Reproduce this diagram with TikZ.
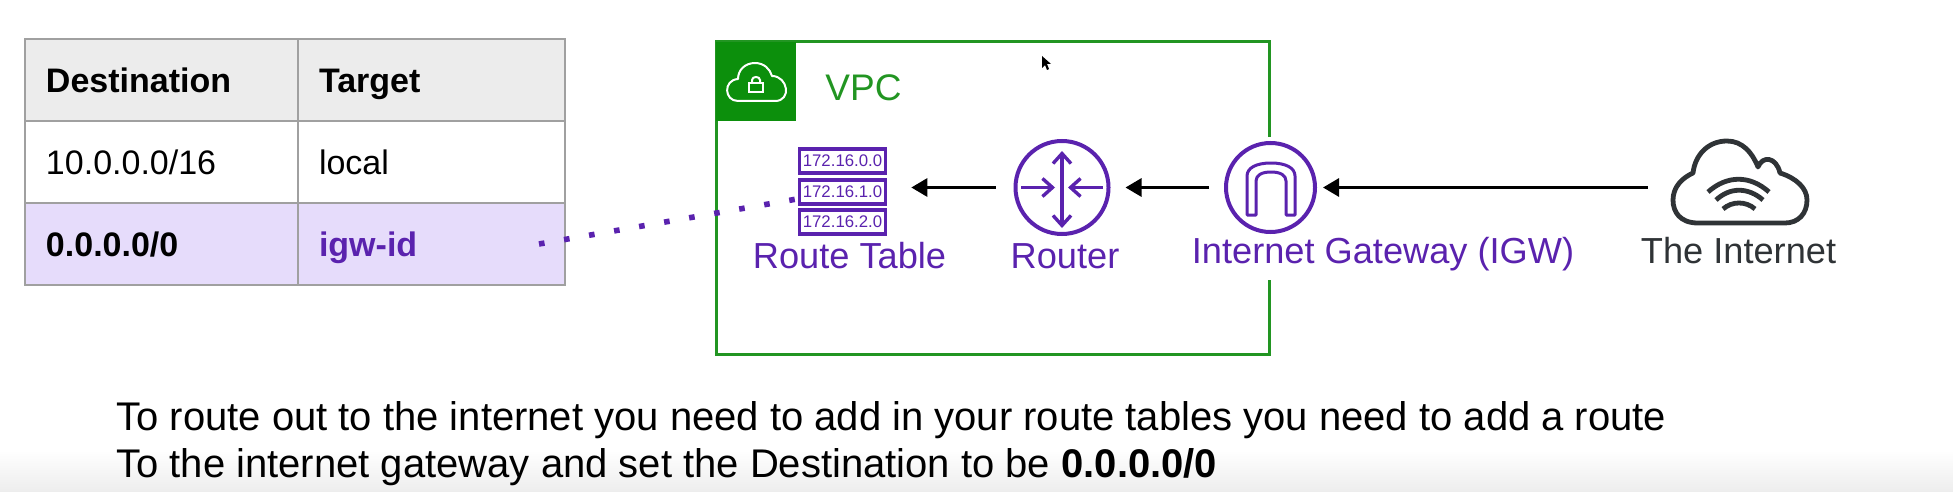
\documentclass[tikz,border=0pt]{standalone}
\usepackage{fontspec}
\setmainfont{Liberation Sans}
\usetikzlibrary{arrows.meta}
\definecolor{awspurple}{HTML}{5A22AE}
\definecolor{awsgreen}{HTML}{229522}
\definecolor{awshead}{HTML}{0C8F0C}
\definecolor{cellline}{HTML}{A0A0A0}
\definecolor{headfill}{HTML}{ECECEC}
\definecolor{rowfill}{HTML}{E6DCFB}
\definecolor{cloudgrey}{HTML}{2F3336}
\definecolor{bottomgrey}{HTML}{EDEDED}
\tikzset{
        cell/.style={draw=cellline, line width=1pt, minimum height=41pt, inner ysep=0pt, inner xsep=10.5pt, text height=12.5pt, text depth=0pt, align=left, font=\fontsize{17}{20}\selectfont},
        cola/.style={cell, text width=115.5pt},
        colb/.style={cell, text width=112.5pt},
        rowbox/.style={draw=awspurple, line width=1.8pt, minimum width=43pt, minimum height=12pt, inner sep=0pt, text=awspurple, font=\fontsize{8.4}{9}\selectfont},
        icon/.style={circle, draw=awspurple, line width=2pt, inner sep=0pt, outer sep=0pt},
        label/.style={anchor=base, font=\fontsize{18.1}{22}\selectfont},
        flow/.style={-{Triangle[length=8pt,width=9pt]}, line width=1.5pt, black},
        inner/.style={-{Straight Barb[length=5pt,width=9pt]}, line width=1.7pt, awspurple},
        note/.style={anchor=base west, inner sep=0pt, font=\fontsize{20}{24}\selectfont},
}
\begin{document}
\begin{tikzpicture}[x=0.5pt, y=-0.5pt]
        \useasboundingbox (0, 0) rectangle (1953, 492);
        \shade[top color=white, bottom color=bottomgrey] (0, 450) rectangle (1953, 492);

        \node[cola, fill=headfill] (desthead) at (161.5, 80) {\textbf{Destination}};
        \node[colb, fill=headfill] (targethead) at (431.5, 80) {\textbf{Target}};
        \node[cola] (destlocal) at (161.5, 162) {10.0.0.0/16};
        \node[colb] (targetlocal) at (431.5, 162) {local};
        \node[cola, fill=rowfill] (destigw) at (161.5, 243.5) {\textbf{0.0.0.0/0}};
        \node[colb, fill=rowfill, text=awspurple] (targetigw) at (431.5, 243.5) {\textbf{igw-id}};

        \draw[awsgreen, line width=1.5pt] (1269, 137) -- (1269, 42) -- (716, 42) -- (716, 354) -- (1269, 354) -- (1269, 280);
        \fill[awshead] (716, 42) rectangle (796, 121);
        \draw[white, line width=1pt, line join=round] (738, 101) .. controls (724, 101) and (723, 80) .. (738, 79) .. controls (738, 70) and (745, 63) .. (755, 63) .. controls (764, 63) and (770, 69) .. (772, 76) .. controls (788, 76) and (792, 101) .. (775, 101) -- cycle;
        \draw[white, line width=1pt] (749, 83) rectangle (763, 92);
        \draw[white, line width=1pt] (752, 83) -- (752, 80) .. controls (752, 76) and (760, 76) .. (760, 80) -- (760, 83);
        \node[anchor=base west, inner sep=0pt, text=awsgreen, font=\fontsize{18.5}{22}\selectfont] (vpclabel) at (825, 101) {VPC};

        \node[rowbox] (rowa) at (842.5, 161) {172.16.0.0};
        \node[rowbox] (rowb) at (842.5, 192) {172.16.1.0};
        \node[rowbox] (rowc) at (842.5, 222) {172.16.2.0};
        \node[label, text=awspurple] (tablelabel) at (849.5, 268) {Route Table};

        \node[icon, minimum size=46.5pt] (router) at (1062, 187.5) {};
        \coordinate (routertop) at (1062, 151);
        \coordinate (routerbottom) at (1062, 228);
        \coordinate (routerleft) at (1021, 187.5);
        \coordinate (routerright) at (1103, 187.5);
        \draw[inner, {Straight Barb[length=5pt,width=9pt]}-{Straight Barb[length=5pt,width=9pt]}] (routertop) -- (routerbottom);
        \draw[inner] (routerleft) -- (1055, 187.5);
        \draw[inner] (routerright) -- (1068, 187.5);
        \node[label, text=awspurple] (routerlabel) at (1065, 268) {Router};

        \node[icon, minimum size=44.5pt] (igw) at (1270.5, 187.5) {};
        \draw[awspurple, line width=1.5pt, line join=round] (1247, 215) -- (1247, 176) .. controls (1247, 168) and (1256, 163) .. (1271, 163) .. controls (1286, 163) and (1295, 168) .. (1295, 176) -- (1295, 215) -- (1286, 215) -- (1286, 181) .. controls (1286, 175) and (1280, 172) .. (1271, 172) .. controls (1262, 172) and (1256, 175) .. (1256, 181) -- (1256, 215) -- cycle;
        \node[label, text=awspurple] (igwlabel) at (1383, 263) {Internet Gateway (IGW)};

        \node[inner sep=0pt, minimum width=67pt, minimum height=41pt] (cloud) at (1740, 182) {};
        \draw[cloudgrey, line width=2.4pt, line join=round] (1698, 223) .. controls (1680, 223) and (1673, 212) .. (1673, 200) .. controls (1673, 187) and (1682, 178) .. (1693, 173) .. controls (1695, 155) and (1708, 141) .. (1727, 141) .. controls (1742, 141) and (1752, 152) .. (1758, 167) .. controls (1762, 156) and (1776, 156) .. (1780, 173) .. controls (1796, 178) and (1807, 188) .. (1807, 200) .. controls (1807, 214) and (1798, 223) .. (1785, 223) -- cycle;
        \draw[cloudgrey, line width=2.4pt] (1708, 192) .. controls (1727, 175) and (1750, 175) .. (1769, 192);
        \draw[cloudgrey, line width=2.4pt] (1716, 200) .. controls (1730, 187) and (1748, 187) .. (1763, 200);
        \draw[cloudgrey, line width=2.4pt] (1723, 209) .. controls (1732, 201) and (1746, 201) .. (1755, 209);
        \node[label, text=cloudgrey] (cloudlabel) at (1738.5, 263) {The Internet};

        \draw[flow, shorten <=10pt, shorten >=12pt] (router.west) -- (rowb.east |- router.west);
        \draw[flow, shorten <=8.5pt, shorten >=8.5pt] (igw.west) -- (router.east);
        \draw[flow, shorten <=12.5pt, shorten >=4pt] (cloud.west |- igw) -- (igw.east);

        \coordinate (dotstart) at (539, 244);
        \coordinate (dotend) at (797, 199);
        \draw[awspurple, line width=2.8pt, dash pattern=on 2.8pt off 9.9pt] (dotstart) -- (dotend);

        \fill[black] (1042, 56) -- (1042, 68) -- (1045, 65) -- (1047, 70) -- (1049, 69) -- (1047, 64) -- (1051, 64) -- cycle;

        \node[note] (linea) at (116, 430) {To route out to the internet you need to add in your route tables you need to add a route};
        \node[note] (lineb) at (116, 477) {To the internet gateway and set the Destination to be \textbf{0.0.0.0/0}};
\end{tikzpicture}
\end{document}
